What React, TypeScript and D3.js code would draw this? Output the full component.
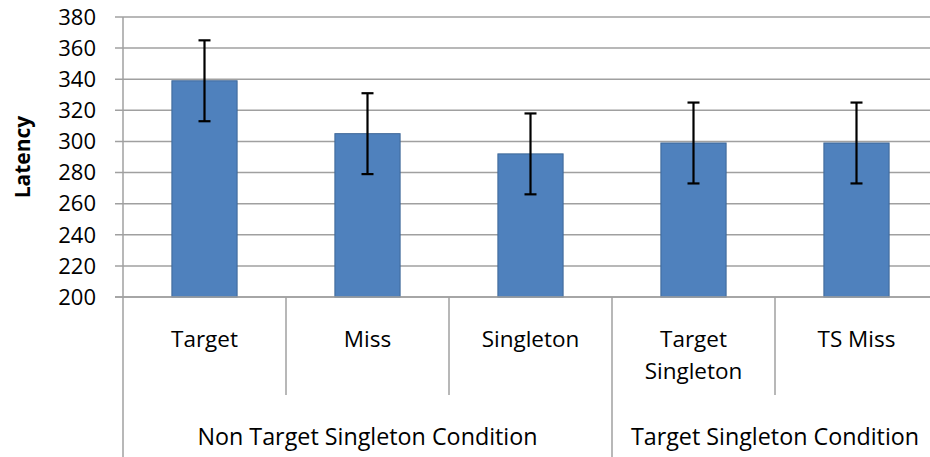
import React from "react";
import * as d3 from "d3";

const categories: string[] = ["Target", "Miss", "Singleton", "Target\nSingleton", "TS Miss"];
const values: number[] = [339, 305, 292, 299, 299];
const errors: number[] = [26, 26, 26, 26, 26];
const groupNames: string[] = ["Non Target Singleton Condition", "Target Singleton Condition"];
const groupSizes: number[] = [3, 2];
const yTicks: number[] = [200, 220, 240, 260, 280, 300, 320, 340, 360, 380];

const W = 930;
const H = 457;
const left = 123;
const right = 938;
const top = 17;
const bottom = 297;
const font = "'Open Sans', sans-serif";
const grid = "#a0a0a0";

export default function App() {
  const x = d3.scaleBand<number>().domain(d3.range(categories.length)).range([left, right]).padding(0);
  const y = d3.scaleLinear().domain([200, 380]).range([bottom, top]);
  const bw = x.bandwidth() * 0.4;
  const step = x.step();

  const groupStarts: number[] = [];
  let acc = 0;
  groupSizes.forEach((s) => {
    groupStarts.push(acc);
    acc += s;
  });

  return (
    <svg width={W} height={H} style={{ position: "absolute", left: 0, top: 0, background: "#fff" }}>
      {yTicks.map((t) => (
        <g key={t}>
          <line x1={left - 8} x2={right} y1={y(t)} y2={y(t)} stroke={grid} strokeWidth={1.5} />
          <text x={96} y={y(t) + 7.8} textAnchor="end" fontFamily={font} fontSize={22} fill="#000">
            {t}
          </text>
        </g>
      ))}
      <line x1={left} x2={left} y1={top} y2={H} stroke={grid} strokeWidth={1.5} />
      {categories.map((c, i) =>
        i > 0 ? (
          <line
            key={"d" + i}
            x1={x(i)!}
            x2={x(i)!}
            y1={bottom}
            y2={groupStarts.includes(i) ? H : 395}
            stroke={grid}
            strokeWidth={1.5}
          />
        ) : null
      )}
      {values.map((v, i) => {
        const cx = x(i)! + step / 2;
        return (
          <g key={"b" + i}>
            <rect
              x={cx - bw / 2}
              y={y(v)}
              width={bw}
              height={y(200) - y(v)}
              fill="#4f81bd"
              stroke="#3d6798"
              strokeWidth={1}
            />
            <line x1={cx} x2={cx} y1={y(v + errors[i])} y2={y(v - errors[i])} stroke="#000" strokeWidth={2.2} />
            <line x1={cx - 6} x2={cx + 6} y1={y(v + errors[i])} y2={y(v + errors[i])} stroke="#000" strokeWidth={2.2} />
            <line x1={cx - 6} x2={cx + 6} y1={y(v - errors[i])} y2={y(v - errors[i])} stroke="#000" strokeWidth={2.2} />
          </g>
        );
      })}
      {categories.map((c, i) => {
        const cx = x(i)! + step / 2;
        const lines = c.split("\n");
        return (
          <text key={"c" + i} x={cx} y={347} textAnchor="middle" fontFamily={font} fontSize={22.5} fill="#000">
            {lines.map((l, j) => (
              <tspan key={j} x={cx} dy={j === 0 ? 0 : 32}>
                {l}
              </tspan>
            ))}
          </text>
        );
      })}
      {groupNames.map((g, k) => {
        const x0 = x(groupStarts[k])!;
        const x1 = x0 + groupSizes[k] * step;
        return (
          <text key={"g" + k} x={(x0 + x1) / 2} y={445} textAnchor="middle" fontFamily={font} fontSize={23.3} fill="#000">
            {g}
          </text>
        );
      })}
      <line x1={left - 8} x2={right} y1={bottom} y2={bottom} stroke={grid} strokeWidth={1.5} />
      <text
        transform={`translate(30,157) rotate(-90)`}
        textAnchor="middle"
        fontFamily={font}
        fontWeight="bold"
        fontSize={21}
        fill="#000"
      >
        Latency
      </text>
    </svg>
  );
}
